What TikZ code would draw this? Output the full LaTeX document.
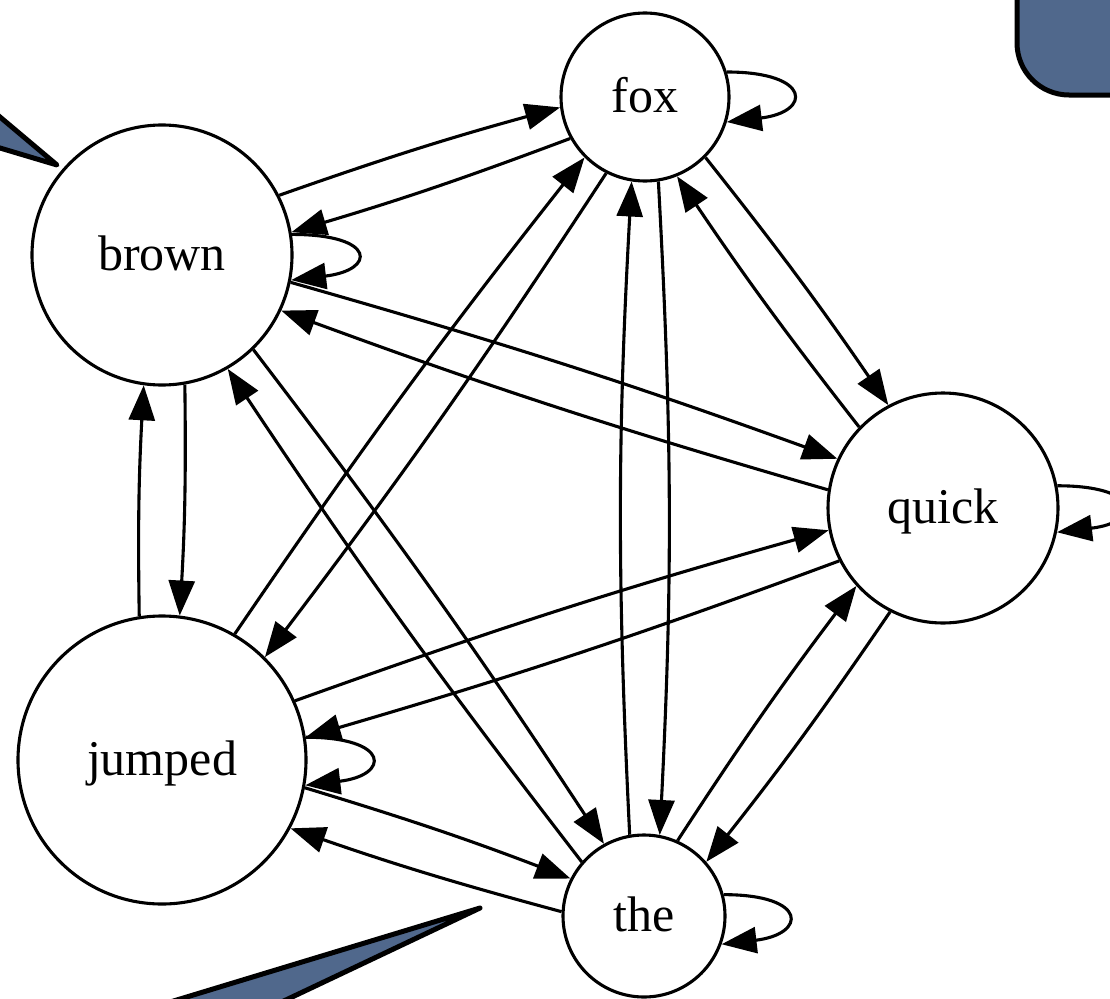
\documentclass[tikz,border=0pt]{standalone}
\usepackage{fontspec}
\setmainfont{Liberation Serif}
\usetikzlibrary{arrows.meta}
\definecolor{slate}{RGB}{80,104,140}
\begin{document}
\begin{tikzpicture}[x=1pt,y=-1pt,
  st/.style={circle,draw=black,line width=3.1pt,fill=white,inner sep=0pt,
    font=\fontsize{50}{60}\selectfont,text height=35pt,text depth=5pt},
  edge/.style={line width=3.1pt,-{Triangle[length=35pt,width=26pt]}},
  deco/.style={fill=slate,draw=black,line width=5pt,line join=round}]
\useasboundingbox (0,0) rectangle (1110,998);
\begin{scope}
\clip (0,0) rectangle (1110,998);
\draw[deco,rounded corners=52pt] (1017,-60) rectangle (1200,95);
\draw[deco] (57,165) -- (-57,69) -- (-57,131) -- cycle;
\draw[deco] (480,908) -- (35,1043) -- (195,1043) -- cycle;
\end{scope}

\node[st,minimum size=168pt] (fox) at (645,97) {fox};
\node[st,minimum size=260pt] (brown) at (162,255) {brown};
\node[st,minimum size=230pt] (quick) at (943,508) {quick};
\node[st,minimum size=288pt] (jumped) at (162,760) {jumped};
\node[st,minimum size=162pt] (the) at (644,916) {the};

\begin{scope}
\clip (0,0) rectangle (1110,998);
% brown-fox
\draw[edge] (brown.27) to[bend left=2] (fox.187);
\draw[edge] (fox.209) to[bend left=2] (brown.10);
% brown-quick
\draw[edge] (brown.-12) to[bend left=2] (quick.155);
\draw[edge] (quick.171) to[bend left=2] (brown.-25);
% brown-the
\draw[edge] (brown.-46) to[bend left=2] (the.119);
\draw[edge] (the.139) to[bend left=2] (brown.-60);
% brown-jumped
\draw[edge] (brown.-80) to[bend left=2] (jumped.83);
\draw[edge] (jumped.99) to[bend left=2] (brown.-98);
% fox-quick
\draw[edge] (fox.-45) to[bend left=2] (quick.118);
\draw[edge] (quick.136) to[bend left=2] (fox.-68);
% fox-the
\draw[edge] (fox.-81) to[bend left=3] (the.79);
\draw[edge] (the.100) to[bend left=3] (fox.-99);
% fox-jumped
\draw[edge] (jumped.60) to[bend left=2] (fox.225);
\draw[edge] (fox.243) to[bend left=2] (jumped.45);
% quick-jumped
\draw[edge] (jumped.24) to[bend left=2] (quick.191);
\draw[edge] (quick.207) to[bend left=2] (jumped.9);
% quick-the
\draw[edge] (the.66) to[bend left=2] (quick.222);
\draw[edge] (quick.243) to[bend left=2] (the.41);
% jumped-the
\draw[edge] (jumped.-11) to[bend left=2] (the.153);
\draw[edge] (the.177) to[bend left=2] (jumped.-28);
% self loops
\draw[edge] (fox.17) .. controls +(85,0) and +(85,-10) .. (fox.-17);
\draw[edge] (brown.9) .. controls +(85,0) and +(85,-10) .. (brown.-11);
\draw[edge] (quick.11) .. controls +(85,0) and +(85,-10) .. (quick.-12);
\draw[edge] (jumped.9) .. controls +(85,0) and +(85,-10) .. (jumped.-10);
\draw[edge] (the.15) .. controls +(85,0) and +(85,-10) .. (the.-20);
\end{scope}
\end{tikzpicture}
\end{document}
